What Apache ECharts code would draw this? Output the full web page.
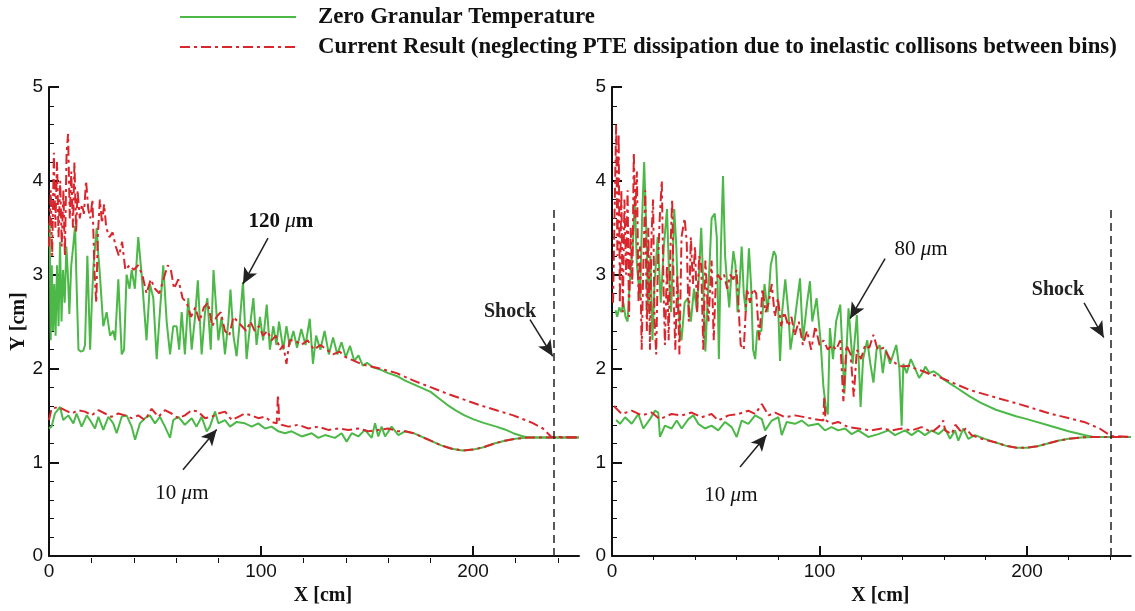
<!DOCTYPE html>
<html><head><meta charset="utf-8">
<script src="https://cdn.jsdelivr.net/npm/echarts@6/dist/echarts.min.js"></script>
<style>html,body{margin:0;padding:0;background:#fff}#c{width:1135px;height:611px}</style>
</head><body><div id="c"></div>
<script>
const NAME_ZERO = 'Zero Granular Temperature';
const NAME_CUR = 'Current Result (neglecting PTE dissipation due to inelastic collisons between bins)';
const xLabelValues = [0, 100, 200];
const xMinorValues = [20, 40, 60, 80, 120, 140, 160, 180, 220, 240];

// ---------- Left panel: 120 um ----------
const left120Zero = [[0.3,3.55],[0.8,2.3],[1.3,3.1],[1.9,2.4],[2.5,2.9],[3.1,2.35],[3.8,3.1],[4.5,2.45],[5.2,3.35],[5.9,2.5],[6.6,3.05],[7.4,2.7],[8.2,3.3],[9.0,2.95],[9.6,2.58],[10.5,3.1],[11.4,3.3],[12.3,3.52],[13.0,2.9],[13.9,2.2],[15.0,2.18],[16.2,2.19],[17.0,2.25],[18.1,3.2],[19.4,2.2],[20.2,2.7],[21.0,3.1],[22.5,3.5],[23.3,3.2],[24.0,3.0],[25.6,2.45],[27.2,2.6],[28.8,2.35],[30.3,2.4],[31.2,2.3],[32.7,2.95],[34.3,2.15],[35.4,2.2],[36.6,3.0],[38.0,2.85],[39.0,3.05],[40.5,2.85],[42.1,3.4],[43.7,3.0],[46.0,2.3],[47.6,2.9],[49.2,2.75],[50.8,2.1],[52.3,2.6],[53.9,3.1],[55.5,2.5],[57.1,2.15],[58.6,2.45],[60.2,2.45],[61.4,2.2],[62.6,2.6],[64.1,2.15],[65.7,2.75],[67.3,2.2],[68.9,2.55],[70.2,2.94],[72.0,2.15],[73.6,2.6],[74.7,2.75],[76.3,2.2],[77.6,3.05],[79.9,2.3],[81.4,2.55],[83.0,2.15],[84.6,2.5],[85.6,2.84],[87.0,2.35],[88.5,2.13],[90.0,2.5],[91.5,2.92],[93.2,2.1],[94.8,2.45],[96.4,2.75],[97.9,2.25],[99.5,2.55],[101.0,2.3],[102.7,2.68],[104.2,2.2],[105.8,2.45],[107.3,2.25],[108.5,2.5],[110.5,2.2],[112.0,2.45],[113.5,2.25],[115.3,2.4],[117.0,2.22],[119.0,2.42],[121.0,2.25],[123.0,2.53],[124.5,2.05],[126.0,2.35],[128.0,2.2],[130.0,2.4],[132.0,2.15],[134.0,2.33],[136.0,2.15],[138.0,2.28],[140.0,2.12],[142.0,2.24],[144.0,2.08],[146.0,2.14],[148.0,2.03],[150.0,2.06],[153.0,2.01],[156.0,1.99],[160.0,1.95],[164.0,1.92],[168.0,1.87],[172.0,1.83],[176.0,1.79],[180.0,1.75],[184.0,1.68],[188.0,1.61],[192.0,1.55],[196.0,1.5],[200.0,1.46],[205.0,1.42],[211.0,1.38],[215.0,1.35],[219.0,1.31],[223.0,1.28],[226.0,1.265],[250.0,1.265]];
const left120Cur = [[0,3.3],[0.8,3.9],[1.5,3.2],[2.3,4.3],[3.0,3.5],[3.8,4.2],[4.5,3.4],[5.3,4.0],[6.0,3.3],[6.8,3.9],[7.5,3.2],[8.3,4.3],[9.0,4.5],[9.8,3.6],[10.5,4.1],[11.3,3.5],[12.0,4.2],[12.8,3.45],[13.5,3.9],[14.5,3.6],[15.5,3.75],[16.5,3.65],[17.5,4.0],[18.5,3.7],[19.5,3.6],[20.5,3.8],[21.5,3.0],[22.3,2.7],[23.0,3.4],[24.0,3.8],[25.0,3.55],[26.0,3.75],[27.0,3.5],[28.5,3.4],[30.0,3.45],[31.5,3.3],[33.0,3.2],[34.5,3.35],[36.0,3.05],[38.0,3.1],[40.0,3.05],[42.0,3.1],[44.0,3.0],[46.0,2.8],[48.0,2.95],[50.0,2.85],[52.0,2.8],[54.0,2.95],[56.0,3.1],[57.5,3.05],[59.0,2.85],[61.0,2.95],[63.0,2.75],[65.0,2.7],[67.0,2.55],[69.0,2.65],[71.0,2.5],[73.0,2.65],[75.0,2.7],[77.0,2.45],[79.0,2.55],[81.0,2.6],[83.0,2.4],[85.0,2.35],[87.0,2.55],[89.0,2.5],[91.0,2.45],[93.0,2.4],[95.0,2.5],[97.0,2.4],[99.0,2.45],[101.0,2.35],[103.0,2.4],[105.0,2.3],[107.0,2.35],[109.0,2.2],[110.5,2.25],[112.0,2.05],[113.5,2.3],[116.0,2.3],[119.0,2.25],[122.0,2.3],[125.0,2.2],[128.0,2.25],[131.0,2.2],[134.0,2.15],[137.0,2.18],[140.0,2.12],[144.0,2.08],[148.0,2.04],[152.0,2.02],[156.0,2.0],[164.0,1.95],[172.0,1.87],[188.0,1.73],[203.0,1.61],[219.0,1.5],[228.0,1.42],[233.0,1.36],[237.0,1.27],[250.0,1.265]];

// ---------- Left panel: 10 um ----------
const left10Zero = [[0,1.36],[1.2,1.38],[2.8,1.52],[5.2,1.59],[6.7,1.45],[9.1,1.5],[11.5,1.415],[13.0,1.52],[15.4,1.38],[17.8,1.5],[19.3,1.45],[21.7,1.36],[23.3,1.485],[25.6,1.345],[28.0,1.485],[30.3,1.415],[31.9,1.31],[34.3,1.485],[36.6,1.5],[39.0,1.38],[40.6,1.24],[42.9,1.415],[45.3,1.47],[47.6,1.5],[50.0,1.415],[52.3,1.485],[54.7,1.38],[57.1,1.26],[58.6,1.45],[61.0,1.485],[64.1,1.4],[67.3,1.47],[69.6,1.38],[72.0,1.485],[74.4,1.33],[75.9,1.38],[78.3,1.54],[79.9,1.415],[83.0,1.45],[85.4,1.38],[88.5,1.43],[92.4,1.415],[95.6,1.38],[98.7,1.415],[101.9,1.36],[105.0,1.38],[108.2,1.33],[111.3,1.31],[114.4,1.33],[119.2,1.275],[123.9,1.31],[127.0,1.26],[130.2,1.29],[134.9,1.26],[138.0,1.31],[140.4,1.22],[142.8,1.31],[145.9,1.275],[149.0,1.345],[152.2,1.26],[153.8,1.415],[155.3,1.275],[156.9,1.38],[158.5,1.275],[161.6,1.38],[164.8,1.29],[167.9,1.33],[172.0,1.31],[176.0,1.27],[180.0,1.23],[185.0,1.18],[190.0,1.145],[195.0,1.125],[200.0,1.135],[205.0,1.16],[210.0,1.2],[215.0,1.23],[220.0,1.25],[226.0,1.265],[250.0,1.265]];
const left10Cur = [[0,1.45],[1.2,1.57],[4.4,1.59],[7.5,1.555],[10.7,1.52],[13.8,1.555],[17.0,1.54],[20.1,1.5],[23.3,1.555],[26.4,1.52],[29.5,1.485],[32.7,1.52],[35.8,1.5],[39.0,1.47],[42.1,1.5],[45.3,1.45],[48.4,1.57],[51.6,1.485],[54.7,1.555],[57.8,1.52],[61.0,1.47],[64.1,1.5],[67.3,1.555],[70.4,1.54],[73.6,1.47],[76.7,1.485],[79.9,1.52],[83.0,1.54],[86.2,1.45],[89.3,1.485],[92.4,1.52],[95.6,1.5],[98.7,1.47],[101.9,1.485],[105.0,1.43],[107.4,1.415],[108.0,1.72],[108.6,1.45],[109.7,1.4],[112.9,1.38],[117.6,1.4],[122.3,1.36],[127.0,1.38],[131.7,1.345],[136.5,1.36],[141.2,1.345],[145.9,1.36],[150.6,1.33],[155.3,1.345],[160.0,1.36],[164.8,1.33],[167.9,1.33],[172.0,1.31],[176.0,1.27],[180.0,1.23],[185.0,1.18],[190.0,1.145],[195.0,1.125],[200.0,1.135],[205.0,1.16],[210.0,1.2],[215.0,1.23],[220.0,1.25],[226.0,1.265],[250.0,1.265]];

// ---------- Right panel: 80 um ----------
const right80Zero = [[1.7,2.62],[2.5,2.55],[3.5,2.65],[4.5,2.6],[5.5,2.7],[6.5,2.55],[7.5,2.5],[8.5,2.9],[10.0,3.3],[11.0,3.8],[12.0,3.1],[13.5,2.75],[14.5,3.6],[15.5,4.2],[16.5,3.5],[17.5,2.6],[18.5,3.2],[19.5,2.3],[20.5,2.9],[22.0,3.4],[23.5,2.7],[25.0,3.3],[26.5,3.7],[27.5,3.0],[28.5,2.6],[30.0,3.7],[31.0,3.3],[32.0,2.6],[33.5,2.3],[35.0,2.7],[36.5,2.75],[38.0,2.5],[39.5,2.85],[41.0,2.6],[43.0,3.5],[44.0,2.9],[45.0,2.18],[46.0,2.7],[47.0,3.1],[48.0,3.6],[49.5,3.65],[50.5,3.4],[51.5,2.1],[52.5,3.3],[53.5,4.05],[54.5,3.2],[55.5,2.9],[56.5,2.65],[57.5,3.0],[58.5,3.25],[59.5,3.1],[60.5,2.6],[61.5,2.9],[62.5,3.3],[63.5,2.8],[64.5,2.6],[66.0,3.28],[67.0,2.9],[68.0,2.2],[69.0,2.1],[70.0,2.4],[72.0,2.4],[73.5,2.9],[75.0,2.6],[76.5,3.1],[78.0,3.25],[79.0,3.2],[80.0,2.7],[81.0,2.08],[82.0,2.6],[83.5,2.95],[85.0,2.6],[86.0,2.2],[88.0,2.5],[90.6,2.96],[92.0,2.3],[94.0,2.7],[95.4,2.93],[96.5,2.5],[98.6,2.75],[100.5,2.3],[101.9,1.8],[103.0,1.6],[104.0,1.51],[105.0,2.43],[106.5,2.1],[108.0,2.5],[110.0,2.68],[111.0,2.2],[112.0,1.73],[114.0,2.64],[116.0,2.05],[118.0,2.57],[119.8,1.59],[121.0,2.1],[123.0,2.3],[124.5,2.05],[126.0,1.85],[127.5,2.2],[129.0,2.25],[130.5,1.95],[132.0,2.2],[134.0,2.05],[135.5,2.15],[137.0,2.25],[138.5,2.0],[139.6,1.39],[140.4,2.05],[142.0,1.95],[144.0,2.1],[146.0,2.0],[148.0,1.9],[149.6,1.95],[151.0,2.02],[153.0,1.95],[155.0,1.97],[157.0,1.94],[160.0,1.88],[165.0,1.81],[172.5,1.7],[178.0,1.63],[185.0,1.56],[194.7,1.49],[200.0,1.46],[211.0,1.39],[220.0,1.33],[227.5,1.29],[232.0,1.27],[250.0,1.27]];
const right80Cur = [[0.5,2.7],[1.2,3.6],[2.0,4.6],[2.6,3.2],[3.2,4.5],[3.8,2.7],[4.5,3.9],[5.2,2.6],[6.0,3.8],[6.8,3.0],[7.5,3.9],[8.2,2.55],[9.0,3.5],[9.8,2.9],[10.5,4.3],[11.2,3.6],[12.0,4.1],[12.8,2.7],[13.5,3.3],[14.3,2.2],[15.0,3.0],[16.0,3.9],[16.8,2.4],[17.5,3.5],[18.3,2.2],[19.0,3.4],[19.8,3.8],[20.5,2.5],[21.3,2.15],[22.0,3.0],[23.0,3.6],[24.0,4.0],[24.8,2.9],[25.5,2.25],[26.5,3.1],[27.3,2.3],[28.2,3.3],[29.0,3.8],[29.8,2.7],[30.5,2.2],[31.5,3.0],[32.5,2.15],[33.5,3.4],[35.0,3.6],[36.0,3.35],[37.0,2.5],[38.0,3.4],[39.0,2.9],[40.0,3.3],[41.0,2.6],[42.0,3.2],[43.0,3.1],[44.0,2.2],[45.0,3.15],[46.5,2.5],[48.0,3.15],[49.0,2.3],[50.0,2.9],[51.0,3.0],[52.5,2.95],[54.0,3.0],[55.5,2.85],[57.0,3.0],[58.5,2.95],[60.0,3.05],[61.0,2.65],[62.0,2.25],[63.5,2.2],[65.0,2.85],[66.5,2.7],[68.0,2.85],[69.5,2.8],[71.0,2.3],[72.5,2.85],[74.0,2.6],[75.5,2.7],[77.0,2.9],[78.5,2.55],[80.0,2.75],[81.5,2.45],[83.0,2.6],[85.0,2.45],[86.5,2.55],[88.0,2.35],[90.0,2.5],[92.0,2.25],[94.0,2.4],[96.0,2.2],[98.0,2.45],[100.0,2.25],[102.0,2.3],[104.0,2.2],[106.0,2.25],[108.0,2.2],[110.0,2.3],[111.5,1.65],[113.0,2.25],[115.0,2.15],[116.5,1.7],[118.0,2.2],[120.0,2.1],[122.0,2.25],[124.0,2.22],[126.0,2.36],[128.0,2.2],[131.0,2.22],[134.0,2.1],[137.0,2.05],[140.0,2.02],[143.0,2.03],[146.0,2.0],[150.0,1.97],[153.0,1.94],[156.5,1.92],[165.0,1.84],[172.5,1.77],[185.0,1.69],[194.7,1.63],[211.0,1.52],[227.5,1.43],[235.0,1.36],[240.5,1.28],[250.0,1.27]];

// ---------- Right panel: 10 um ----------
const right10Zero = [[2.0,1.45],[3.9,1.41],[6.3,1.48],[9.5,1.41],[12.7,1.515],[15.1,1.36],[18.3,1.46],[20.7,1.55],[22.3,1.53],[23.1,1.27],[25.5,1.39],[28.7,1.36],[31.2,1.445],[33.6,1.36],[36.8,1.46],[39.2,1.5],[41.6,1.41],[44.8,1.36],[48.0,1.39],[51.2,1.34],[54.5,1.43],[57.7,1.375],[60.1,1.27],[62.5,1.445],[65.7,1.41],[69.0,1.5],[72.2,1.46],[73.8,1.34],[77.0,1.445],[80.2,1.48],[81.8,1.29],[84.2,1.43],[88.2,1.41],[91.4,1.445],[94.6,1.39],[99.4,1.41],[102.6,1.34],[105.8,1.375],[109.0,1.34],[112.3,1.36],[115.5,1.3],[118.7,1.34],[123.5,1.27],[128.4,1.3],[133.2,1.34],[136.4,1.29],[141.2,1.34],[144.4,1.29],[147.6,1.34],[150.8,1.29],[154.1,1.34],[157.3,1.3],[160.5,1.36],[162.9,1.25],[165.3,1.34],[166.9,1.23],[169.3,1.36],[171.7,1.25],[174.9,1.29],[179.7,1.25],[185.0,1.21],[190.0,1.175],[195.0,1.155],[200.0,1.155],[205.0,1.17],[210.0,1.2],[215.0,1.23],[220.0,1.25],[226.0,1.265],[232.0,1.27],[250.0,1.27]];
const right10Cur = [[1.0,1.6],[2.2,1.57],[4.7,1.515],[9.5,1.55],[14.3,1.5],[19.1,1.53],[23.1,1.46],[28.7,1.515],[33.6,1.5],[38.4,1.53],[43.2,1.48],[48.0,1.515],[51.2,1.445],[56.1,1.5],[60.9,1.515],[65.7,1.55],[69.0,1.515],[72.2,1.62],[75.4,1.5],[78.6,1.53],[83.4,1.48],[88.2,1.5],[93.0,1.48],[97.8,1.46],[101.8,1.445],[102.3,1.7],[102.9,1.45],[105.8,1.41],[109.0,1.43],[113.9,1.375],[118.7,1.36],[125.1,1.34],[129.9,1.36],[134.8,1.34],[139.6,1.36],[144.4,1.34],[149.2,1.375],[154.1,1.32],[157.5,1.38],[159.7,1.445],[160.5,1.34],[163.7,1.3],[165.5,1.4],[168.5,1.32],[170.5,1.36],[173.3,1.29],[178.1,1.25],[185.0,1.21],[190.0,1.175],[195.0,1.155],[200.0,1.155],[205.0,1.17],[210.0,1.2],[215.0,1.23],[220.0,1.25],[226.0,1.265],[232.0,1.27],[250.0,1.27]];

// ---------- Annotations (data coordinates) ----------
const shockX = [238, 240.5];
const shockTop = 3.72;
const leftTexts = [[109.4, 3.62, '120'], [217.5, 2.66, 'Shock'], [62.7, 0.72, '10']];
const rightTexts = [[148.9, 3.32, '80'], [214.9, 2.89, 'Shock'], [57.3, 0.70, '10']];
const leftArrows = [[[103.3, 3.39], [91.5, 2.9]], [[226.9, 2.52], [237.6, 2.13]], [[63.2, 0.92], [79.1, 1.35]]];
const rightArrows = [[[131.6, 3.17], [114.7, 2.53]], [[227.5, 2.70], [237.0, 2.33]], [[61.7, 0.95], [74.5, 1.29]]];

const GREEN = '#4cb848';
const RED = '#d9262c';
const SERIF = '"Liberation Serif", "DejaVu Serif", serif';
const SANS = '"Liberation Sans", Arial, sans-serif';

function markPoints(list, boldFirst) {
  return list.map((t, k) => {
    let fmt;
    if (t[2] === 'Shock') fmt = '{s|Shock}';
    else if (boldFirst && k === 0) fmt = '{b|' + t[2] + ' }{i|μ}{b|m}';
    else fmt = '{n|' + t[2] + ' }{i|μ}{n|m}';
    return { coord: [t[0], t[1]], label: { formatter: fmt } };
  });
}
function markLines(arrows, sx) {
  const d = arrows.map(a => [
    { coord: a[0], symbol: 'none' },
    { coord: a[1], symbol: 'arrow', symbolSize: [11, 16] }
  ]);
  d.push([
    { coord: [sx, 0], symbol: 'none', lineStyle: { type: [8, 5], width: 1.5, color: '#222' } },
    { coord: [sx, shockTop], symbol: 'none' }
  ]);
  return d;
}
const richText = {
  n: { fontFamily: SERIF, fontSize: 21, color: '#111' },
  b: { fontFamily: SERIF, fontSize: 21, color: '#111', fontWeight: 'bold' },
  i: { fontFamily: SERIF, fontSize: 21, color: '#111', fontStyle: 'italic' },
  s: { fontFamily: SERIF, fontSize: 20, color: '#222', fontWeight: 'bold' }
};

function lineSeries(name, data, xi, yi, isCur) {
  return {
    name, type: 'line', data, xAxisIndex: xi, yAxisIndex: yi,
    showSymbol: false, symbol: 'none', animation: false, silent: true,
    lineStyle: isCur ? { color: RED, width: 2, type: [10, 4, 3, 4] } : { color: GREEN, width: 2 },
    itemStyle: { color: isCur ? RED : GREEN },
    z: isCur ? 3 : 2
  };
}
function annotSeries(xi, yi, texts, arrows, sx, boldFirst) {
  return {
    type: 'line', data: [], xAxisIndex: xi, yAxisIndex: yi, silent: true, animation: false,
    markLine: {
      silent: true, animation: false, symbol: ['none', 'arrow'],
      label: { show: false },
      lineStyle: { color: '#222', width: 1.5, type: 'solid' },
      emphasis: { disabled: true },
      data: markLines(arrows, sx)
    },
    markPoint: {
      silent: true, animation: false, symbol: 'circle', symbolSize: 1,
      itemStyle: { color: 'rgba(0,0,0,0)' },
      label: { show: true, position: 'inside', offset: [0, 5], rich: richText },
      data: markPoints(texts, boldFirst)
    }
  };
}

const gridDefs = [
  { left: 49, top: 87, width: 530, height: 476 },
  { left: 612, top: 87, width: 518.75, height: 473 }
];

function mainX(gi) {
  return {
    type: 'value', gridIndex: gi, min: 0, max: 250, interval: 100,
    axisLine: { show: true, lineStyle: { color: '#111', width: 2 } },
    axisTick: { show: true, inside: true, length: 10, customValues: xLabelValues, lineStyle: { color: '#111', width: 2 } },
    axisLabel: { show: true, customValues: xLabelValues, margin: 6, fontFamily: SANS, fontSize: 19, color: '#111' },
    splitLine: { show: false },
    name: 'X [cm]', nameLocation: 'middle', nameGap: 20,
    nameTextStyle: { fontFamily: SERIF, fontWeight: 'bold', fontSize: 20, color: '#111', padding: [0, 0, 0, 18] }
  };
}
function minorX(gi, h) {
  return {
    type: 'value', gridIndex: gi, min: 0, max: 250, interval: 20, position: 'top', offset: -h,
    axisLine: { show: false },
    axisTick: { show: true, inside: false, length: 5, customValues: xMinorValues, lineStyle: { color: '#111', width: 1 } },
    axisLabel: { show: false }, splitLine: { show: false }
  };
}
function mainY(gi, withName) {
  const y = {
    type: 'value', gridIndex: gi, min: 0, max: 5, interval: 1,
    axisLine: { show: true, lineStyle: { color: '#111', width: 2 } },
    axisTick: { show: true, inside: true, length: 10, lineStyle: { color: '#111', width: 2 } },
    minorTick: { show: true, splitNumber: 5, length: 5, lineStyle: { color: '#111', width: 1 } },
    axisLabel: { show: true, margin: 6, fontFamily: SANS, fontSize: 19, color: '#111' },
    splitLine: { show: false }, minorSplitLine: { show: false }
  };
  if (withName) {
    y.name = 'Y [cm]'; y.nameLocation = 'middle'; y.nameGap = 20;
    y.nameTextStyle = { fontFamily: SERIF, fontWeight: 'bold', fontSize: 20, color: '#111' };
  }
  return y;
}

const option = {
  animation: false,
  backgroundColor: '#fff',
  legend: {
    data: [NAME_ZERO, NAME_CUR], orient: 'vertical', left: 174, top: -3,
    itemWidth: 116, itemHeight: 14, itemGap: 0, selectedMode: false,
    itemStyle: { opacity: 0 },
    textStyle: { fontFamily: SERIF, fontWeight: 'bold', fontSize: 22.8, color: '#111', lineHeight: 30, padding: [0, 0, 0, 17] }
  },
  grid: gridDefs,
  xAxis: [mainX(0), minorX(0, 476), mainX(1), minorX(1, 473)],
  yAxis: [mainY(0, true), mainY(1, false)],
  series: [
    lineSeries(NAME_ZERO, left120Zero, 0, 0, false),
    lineSeries(NAME_ZERO, left10Zero, 0, 0, false),
    lineSeries(NAME_CUR, left120Cur, 0, 0, true),
    lineSeries(NAME_CUR, left10Cur, 0, 0, true),
    lineSeries(NAME_ZERO, right80Zero, 2, 1, false),
    lineSeries(NAME_ZERO, right10Zero, 2, 1, false),
    lineSeries(NAME_CUR, right80Cur, 2, 1, true),
    lineSeries(NAME_CUR, right10Cur, 2, 1, true),
    annotSeries(0, 0, leftTexts, leftArrows, shockX[0], true),
    annotSeries(2, 1, rightTexts, rightArrows, shockX[1], false)
  ]
};
const chart = echarts.init(document.getElementById('c'), null, { renderer: 'canvas' });
chart.setOption(option);
</script>
</body></html>
